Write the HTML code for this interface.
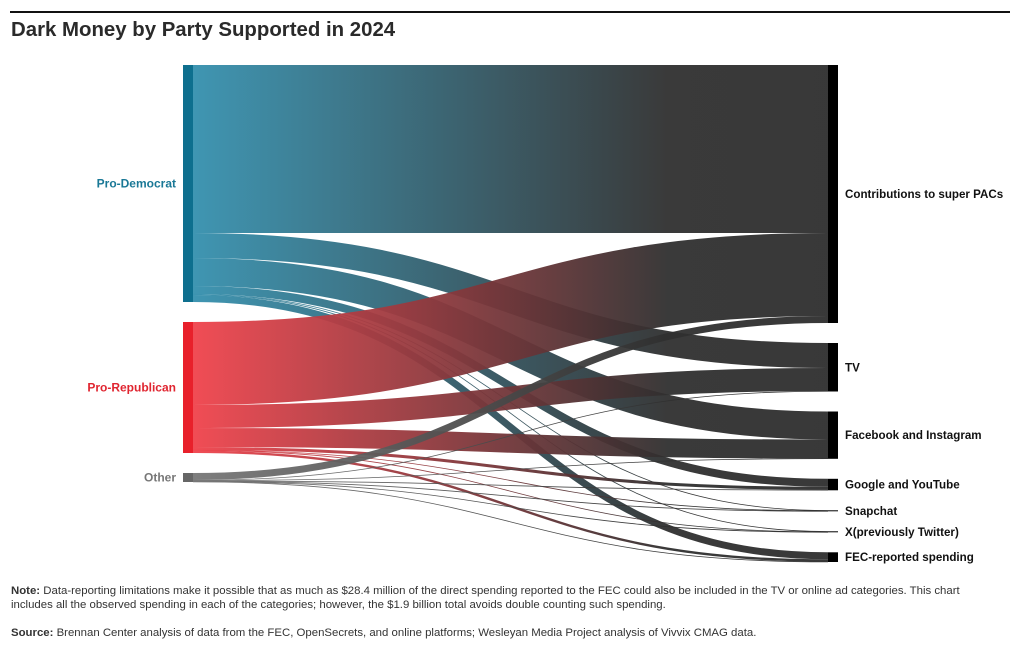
<!DOCTYPE html>
<html><head><meta charset="utf-8"><style>
body{margin:0;background:#fff;font-family:"Liberation Sans",sans-serif;}
#wrap{position:relative;width:1020px;height:650px;overflow:hidden}
.rule{position:absolute;left:10px;top:11px;width:1000px;height:2px;background:#111}
h1{position:absolute;left:11px;top:19px;margin:0;font-size:20.4px;font-weight:bold;color:#2a2a2a}
.note{position:absolute;left:11px;font-size:11.4px;color:#333;line-height:14px;width:1010px;white-space:nowrap}
</style></head><body>
<div id="wrap">
<div class="rule"></div>
<h1>Dark Money by Party Supported in 2024</h1>
<svg id="sk" width="1020" height="650" style="position:absolute;left:0;top:0"></svg>
<div class="note" style="top:584px"><b>Note:</b> Data-reporting limitations make it possible that as much as $28.4 million of the direct spending reported to the FEC could also be included in the TV or online ad categories. This chart<br>includes all the observed spending in each of the categories; however, the $1.9 billion total avoids double counting such spending.</div>
<div class="note" style="top:626px"><b>Source:</b> Brennan Center analysis of data from the FEC, OpenSecrets, and online platforms; Wesleyan Media Project analysis of Vivvix CMAG data.</div>
</div>
<script>
const sources=["Pro-Democrat","Pro-Republican","Other"];
const targets=["Contributions to super PACs","TV","Facebook and Instagram","Google and YouTube","Snapchat","X(previously Twitter)","FEC-reported spending"];
const demValues=[168,25,28,8,0.5,0.5,7];
const repValues=[83,23,19,3,0.3,0.3,2.4];
const otherValues=[7,0.5,0.3,0.5,0.2,0.2,0.3];
const srcColors=["#3590ae","#f0434c","#777"];
const nodeColors=["#0e6f8e","#e8202b","#666"];
const labelColors=["#1a7896","#e02530","#777"];
const flows=[demValues,repValues,otherValues];
const NS="http://www.w3.org/2000/svg";
const svg=document.getElementById('sk');
const x0=183,x1=193,tx0=828,tx1=838,top0=65,gap=20,k=1;
const defs=document.createElementNS(NS,'defs');svg.appendChild(defs);
let y=top0;const sy=[];
sources.forEach((s,i)=>{const v=flows[i].reduce((a,b)=>a+b,0);sy.push([y,v*k]);y+=v*k+gap;});
y=top0;const ty=[];
targets.forEach((t,j)=>{const v=flows.reduce((a,f)=>a+f[j],0);ty.push([y,Math.max(v*k,1)]);y+=Math.max(v*k,1)+gap;});
srcColors.forEach((c,i)=>{const g=document.createElementNS(NS,'linearGradient');g.id='g'+i;g.setAttribute('gradientUnits','userSpaceOnUse');g.setAttribute('x1',x1);g.setAttribute('x2',tx0);g.setAttribute('y1',0);g.setAttribute('y2',0);
g.innerHTML=`<stop offset="0" stop-color="${c}"/><stop offset="0.75" stop-color="#2f2f2f"/><stop offset="1" stop-color="#2e2e2e"/>`;defs.appendChild(g);});
const tOff=ty.map(t=>t[0]);
flows.forEach((f,i)=>{let so=sy[i][0];
f.forEach((v,j)=>{const w=v*k;const ya=so+w/2;const yb=tOff[j]+w/2;so+=w;tOff[j]+=w;
const p=document.createElementNS(NS,'path');const mx=(x1+tx0)/2;
p.setAttribute('d',`M${x1},${ya}C${mx},${ya} ${mx},${yb} ${tx0},${yb}`);
p.setAttribute('fill','none');p.setAttribute('stroke',`url(#g${i})`);p.setAttribute('stroke-width',Math.max(w,0.8));p.setAttribute('stroke-opacity',0.95);


svg.appendChild(p);});});
sources.forEach((s,i)=>{const r=document.createElementNS(NS,'rect');r.setAttribute('x',x0);r.setAttribute('y',sy[i][0]);r.setAttribute('width',x1-x0);r.setAttribute('height',sy[i][1]);r.setAttribute('fill',nodeColors[i]);


svg.appendChild(r);
const t=document.createElementNS(NS,'text');t.setAttribute('x',176);t.setAttribute('y',sy[i][0]+sy[i][1]/2+4);t.setAttribute('text-anchor','end');t.setAttribute('font-size','12');t.setAttribute('font-weight','bold');t.setAttribute('fill',labelColors[i]);t.setAttribute('font-family','Liberation Sans, sans-serif');t.textContent=s;


svg.appendChild(t);});
targets.forEach((s,j)=>{const r=document.createElementNS(NS,'rect');r.setAttribute('x',tx0);r.setAttribute('y',ty[j][0]);r.setAttribute('width',tx1-tx0);r.setAttribute('height',ty[j][1]);r.setAttribute('fill','#000');


svg.appendChild(r);
const t=document.createElementNS(NS,'text');t.setAttribute('x',845);t.setAttribute('y',ty[j][0]+ty[j][1]/2+4);t.setAttribute('font-size','11.6');t.setAttribute('font-weight','bold');t.setAttribute('fill','#111');t.setAttribute('font-family','Liberation Sans, sans-serif');t.textContent=s;


svg.appendChild(t);});
</script>
</body></html>
